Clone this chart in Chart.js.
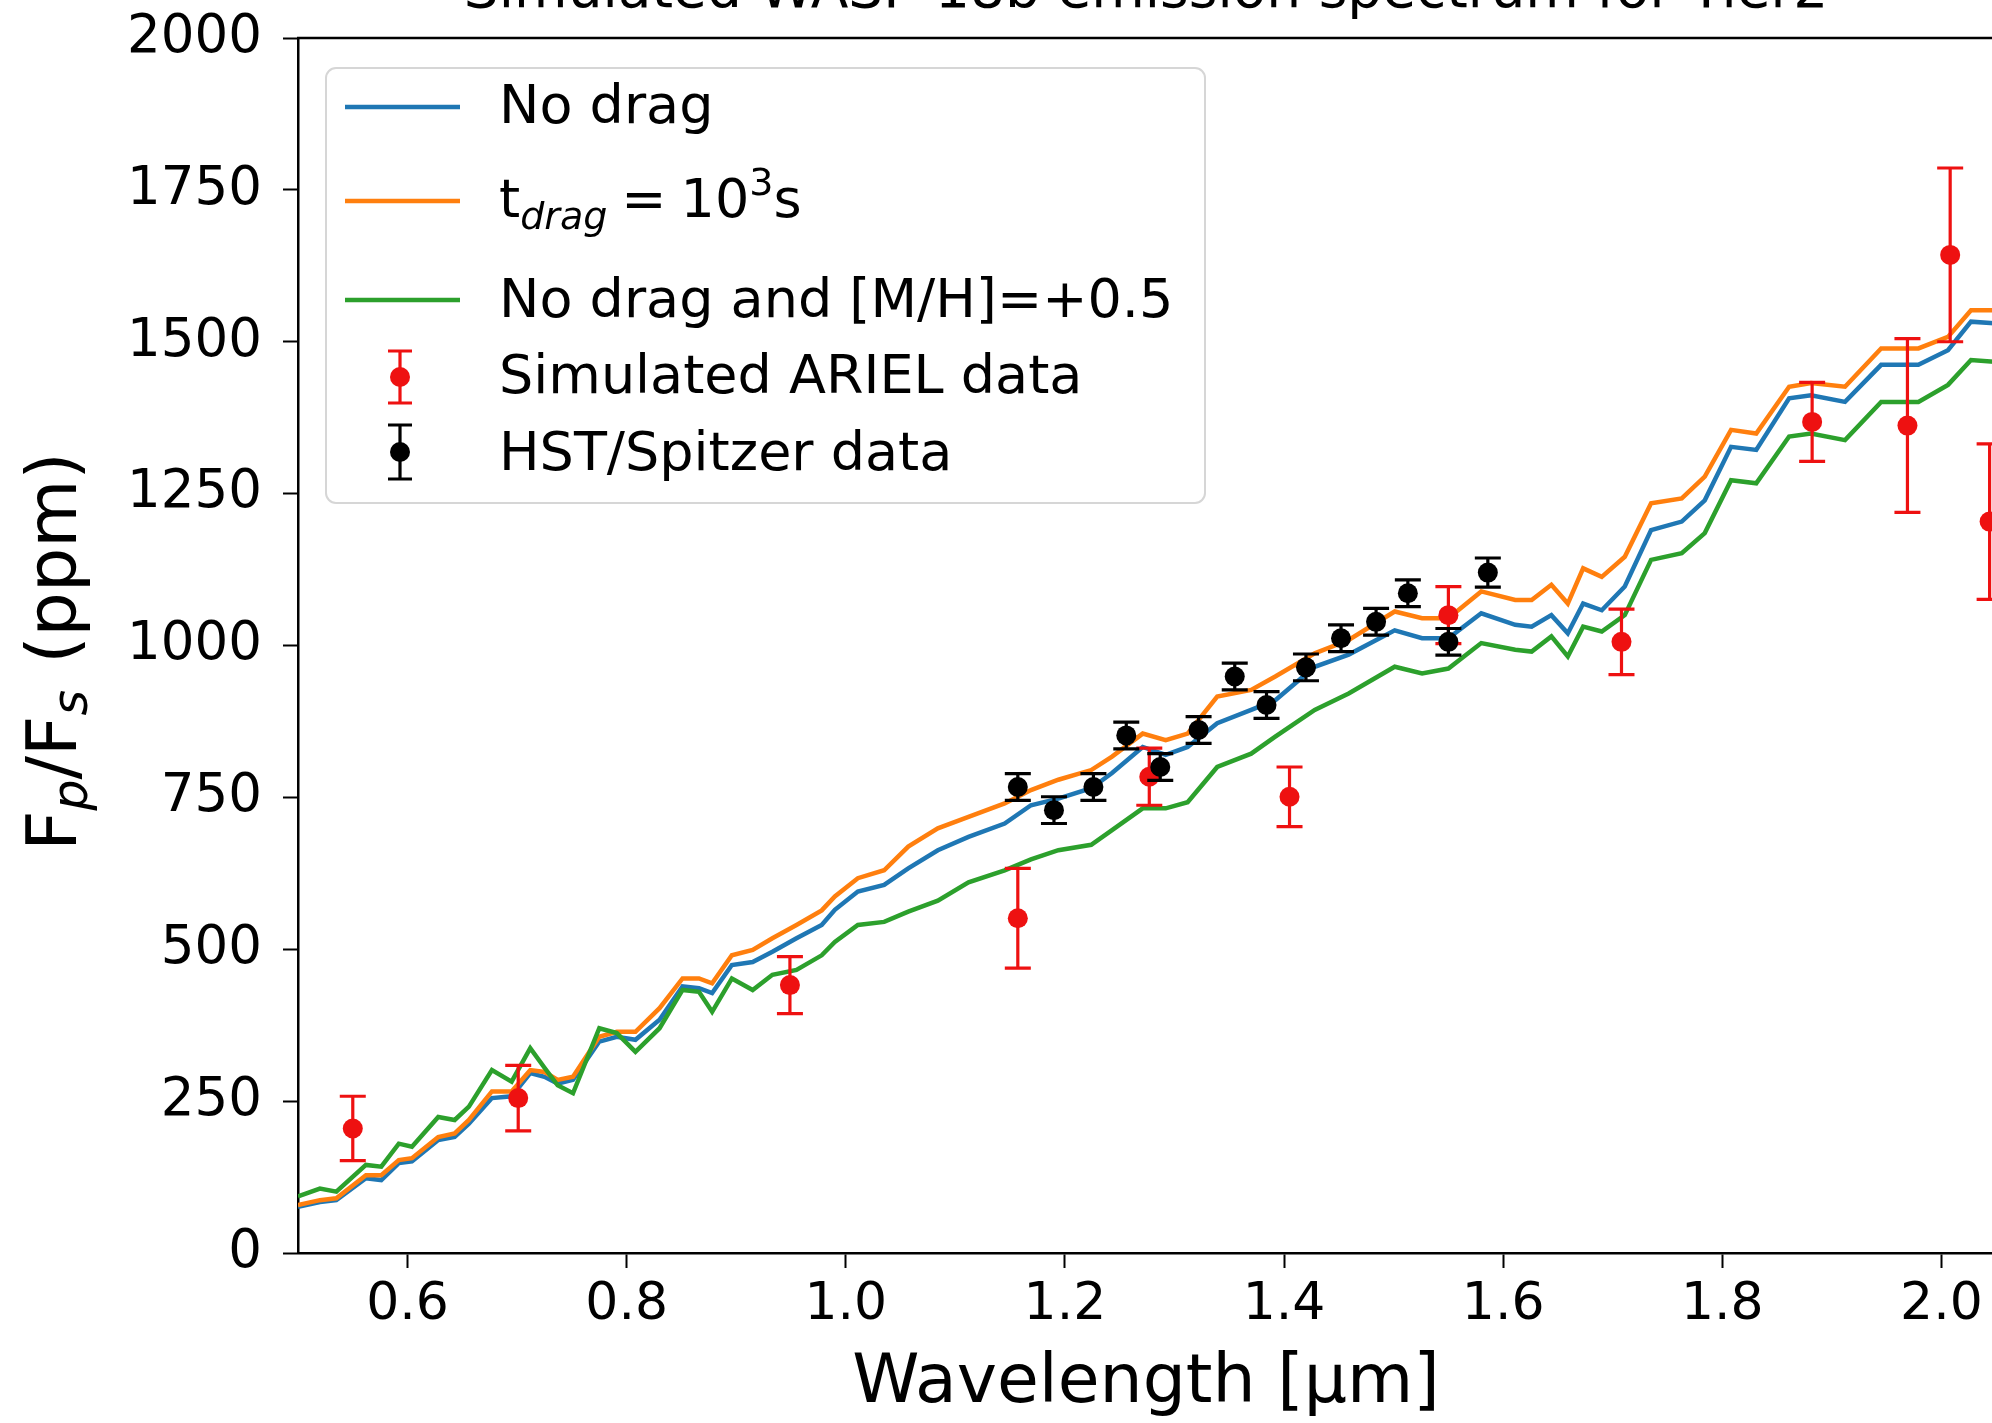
<!DOCTYPE html>
<html>
<head>
<meta charset="utf-8">
<script src="https://cdn.jsdelivr.net/npm/chart.js@4.4.1/dist/chart.umd.min.js"></script>
<style>
html,body{margin:0;padding:0;background:#fff;overflow:hidden;width:1992px;height:1423px;}
#wrap{position:absolute;left:0;top:-50px;}
</style>
</head>
<body>
<div id="wrap"><canvas id="spec" width="2004" height="1480"></canvas></div>
<script>

/* DATA */

const wavelength = [0.50,0.52,0.535,0.562,0.576,0.592,0.604,0.628,0.643,0.656,0.677,0.695,0.712,0.725,0.737,0.751,0.775,0.791,0.808,0.830,0.851,0.866,0.878,0.896,0.915,0.933,0.955,0.978,0.990,1.011,1.035,1.057,1.084,1.112,1.145,1.169,1.194,1.224,1.243,1.271,1.292,1.312,1.339,1.370,1.392,1.428,1.459,1.501,1.526,1.550,1.580,1.611,1.626,1.644,1.659,1.673,1.690,1.711,1.735,1.763,1.784,1.808,1.831,1.861,1.881,1.912,1.945,1.979,2.006,2.027,2.05];

const noDrag = [76,84,87,123,120,148,151,186,191,213,255,258,296,290,279,285,348,356,351,384,439,436,428,474,479,496,518,540,565,595,606,633,663,685,707,737,748,765,790,833,820,833,872,894,910,965,985,1025,1012,1012,1053,1034,1031,1050,1020,1069,1058,1097,1190,1204,1239,1327,1322,1407,1412,1401,1462,1462,1486,1533,1530];

const drag1e3 = [79,87,90,128,128,153,156,191,197,219,266,266,301,298,285,290,356,364,364,403,452,452,444,490,499,518,540,564,587,617,630,669,699,718,740,762,779,795,817,855,844,855,916,927,949,987,1009,1056,1045,1045,1089,1075,1075,1100,1069,1127,1113,1146,1234,1242,1278,1355,1349,1426,1432,1426,1489,1489,1508,1552,1552];

const noDragMetal = [93,106,101,145,142,180,175,224,219,241,301,282,337,305,276,263,370,362,331,370,433,430,397,452,433,458,466,490,512,540,545,562,580,610,630,648,663,672,696,732,732,742,800,822,850,894,921,965,954,962,1004,993,990,1015,982,1031,1023,1050,1141,1152,1185,1272,1267,1344,1349,1338,1401,1401,1429,1470,1467];

const arielWave = [0.550,0.701,0.949,1.157,1.277,1.405,1.550,1.708,1.882,1.969,2.008,2.044];
const arielFlux = [205,255,441,551,784,751,1050,1006,1368,1362,1643,1204];
const arielErr = [53,54,47,82,47,49,47,54,65,143,143,128];

const hstWave = [1.157,1.190,1.226,1.256,1.287,1.322,1.355,1.384,1.420,1.452,1.484,1.513,1.550,1.586];
const hstFlux = [767,729,767,852,800,861,949,902,964,1012,1039,1086,1006,1120];
const hstErr = [22,22,22,22,22,22,22,22,22,22,22,22,22,24];

const xTicks = [0.6,0.8,1.0,1.2,1.4,1.6,1.8,2.0];
const yTicks = [0,250,500,750,1000,1250,1500,1750,2000];

const FONT = "DejaVu Sans";
Chart.defaults.font.family = FONT;
Chart.defaults.color = "#000";

function lineSet(label,values,color,order){
return {
label:label,
data:wavelength.map((x,i)=>({x:x,y:values[i]})),
showLine:true,
borderColor:color,
backgroundColor:color,
borderWidth:4.5,
pointRadius:0,
pointHoverRadius:0,
tension:0,
order:order
};
}

function pointSet(label,xs,ys,errs,color,order){
return {
label:label,
data:xs.map((x,i)=>({x:x,y:ys[i]})),
errors:errs,
showLine:false,
borderColor:color,
backgroundColor:color,
pointRadius:10,
pointHoverRadius:10,
pointBorderWidth:0,
order:order
};
}

/* ERROR BARS */

const errorBars = {
id:'errorBars',
beforeDatasetDraw:function(chart,args){
let ds = chart.data.datasets[args.index];
if(!ds.errors) return;
let ctx = chart.ctx;
let a = chart.chartArea;
let x = chart.scales.x, y = chart.scales.y;
ctx.save();
ctx.beginPath();
ctx.rect(a.left,a.top,a.right-a.left,a.bottom-a.top);
ctx.clip();
ctx.strokeStyle = ds.borderColor;
ctx.lineWidth = 3.2;
ds.data.forEach(function(p,i){
let px = x.getPixelForValue(p.x);
let top = y.getPixelForValue(p.y+ds.errors[i]);
let bot = y.getPixelForValue(p.y-ds.errors[i]);
ctx.beginPath();
ctx.moveTo(px,top); ctx.lineTo(px,bot);
ctx.moveTo(px-13,top); ctx.lineTo(px+13,top);
ctx.moveTo(px-13,bot); ctx.lineTo(px+13,bot);
ctx.stroke();
});
ctx.restore();
}
};

/* FRAME + Y TITLE + LEGEND */

function subText(ctx,parts,x,y){
// parts: [text, size, style, dy, extra gap]
parts.forEach(function(p){
ctx.font = (p[2]||"") + " " + p[1] + "px " + FONT;
ctx.fillText(p[0],x,y+(p[3]||0));
x += ctx.measureText(p[0]).width + (p[4]||0);
});
return x;
}

function partsWidth(ctx,parts){
let w = 0;
parts.forEach(function(p){
ctx.font = (p[2]||"") + " " + p[1] + "px " + FONT;
w += ctx.measureText(p[0]).width + (p[4]||0);
});
return w;
}

const extras = {
id:'extras',
afterDraw:function(chart){
let ctx = chart.ctx;
let a = chart.chartArea;
ctx.save();

// top spine
ctx.strokeStyle = "#000";
ctx.lineWidth = 2.5;
ctx.beginPath();
ctx.moveTo(a.left-1,a.top);
ctx.lineTo(a.right,a.top);
ctx.stroke();

// y axis title with subscripts
ctx.fillStyle = "#000";
ctx.textBaseline = "alphabetic";
let yParts = [["F",70],["p",49,"italic",11],["/F",70],["s",49,"italic",11,4],[" (ppm)",70]];
ctx.save();
ctx.translate(a.left-222,(a.top+a.bottom)/2+6);
ctx.rotate(-Math.PI/2);
subText(ctx,yParts,-partsWidth(ctx,yParts)/2,0);
ctx.restore();

// legend box
let lx = a.left+28, ly = a.top+30;
ctx.beginPath();
ctx.roundRect(lx,ly,879,435,10);
ctx.fillStyle = "rgba(255,255,255,0.8)";
ctx.fill();
ctx.strokeStyle = "#d6d6d6";
ctx.lineWidth = 2;
ctx.stroke();

let hx0 = a.left+47, hx1 = a.left+162, tx = a.left+201;
let lines = [["#1f77b4",69],["#ff7f0e",163],["#2ca02c",262]];
lines.forEach(function(l){
ctx.strokeStyle = l[0];
ctx.lineWidth = 4.5;
ctx.beginPath();
ctx.moveTo(hx0,a.top+l[1]);
ctx.lineTo(hx1,a.top+l[1]);
ctx.stroke();
});

let marks = [["#ee1111",339,26],["#000",414,27]];
marks.forEach(function(m){
let cx = a.left+102, cy = a.top+m[1];
ctx.strokeStyle = m[0];
ctx.fillStyle = m[0];
ctx.lineWidth = 3.2;
ctx.beginPath();
ctx.moveTo(cx,cy-m[2]); ctx.lineTo(cx,cy+m[2]);
ctx.moveTo(cx-12,cy-m[2]); ctx.lineTo(cx+12,cy-m[2]);
ctx.moveTo(cx-12,cy+m[2]); ctx.lineTo(cx+12,cy+m[2]);
ctx.stroke();
ctx.beginPath();
ctx.arc(cx,cy,10,0,Math.PI*2);
ctx.fill();
});

ctx.fillStyle = "#000";
ctx.font = "54px " + FONT;
ctx.fillText("No drag",tx,a.top+85);
subText(ctx,[["t",54],["drag",38,"italic",12,14],["=",54,"",0,14],["10",54],["3",38,"",-22],["s",54]],tx,a.top+179);
ctx.font = "54px " + FONT;
ctx.fillText("No drag and [M/H]=+0.5",tx,a.top+279);
ctx.fillText("Simulated ARIEL data",tx,a.top+355);
ctx.fillText("HST/Spitzer data",tx,a.top+432);

ctx.restore();
}
};

/* CHART */

new Chart(document.getElementById("spec"),{
type:'scatter',
data:{
datasets:[
lineSet("No drag",noDrag,"#1f77b4",5),
lineSet("t_drag = 10^3 s",drag1e3,"#ff7f0e",4),
lineSet("No drag and [M/H]=+0.5",noDragMetal,"#2ca02c",3),
pointSet("Simulated ARIEL data",arielWave,arielFlux,arielErr,"#ee1111",2),
pointSet("HST/Spitzer data",hstWave,hstFlux,hstErr,"#000",1)
]
},
plugins:[errorBars,extras],
options:{
responsive:false,
animation:false,
devicePixelRatio:1,
layout:{padding:{left:0,right:10,top:0,bottom:0}},
plugins:{
legend:{display:false},
tooltip:{enabled:false},
title:{
display:true,
fullSize:false,
text:"Simulated WASP-18b emission spectrum for Tier2",
color:"#000",
font:{family:FONT,size:55,weight:'normal'},
padding:{top:10,bottom:12}
}
},
scales:{
x:{
type:'linear',
min:0.5,
max:2.048,
afterBuildTicks:function(s){ s.ticks = xTicks.map(v=>({value:v})); },
afterFit:function(s){ s.height = 177; },
ticks:{
callback:function(v){ return v.toFixed(1); },
font:{size:52},
color:"#000",
padding:6,
maxRotation:0,
autoSkip:false
},
grid:{display:true,drawOnChartArea:false,drawTicks:true,tickLength:15,tickWidth:2,tickColor:"#000"},
border:{display:true,color:"#000",width:2.5},
title:{display:true,text:"Wavelength [μm]",color:"#000",font:{size:68},padding:{top:0,bottom:5}}
},
y:{
min:0,
max:2000,
afterBuildTicks:function(s){ s.ticks = yTicks.map(v=>({value:v})); },
afterFit:function(s){ s.width = 298; },
ticks:{
callback:function(v){ return String(v); },
font:{size:53},
color:"#000",
padding:21
},
grid:{display:true,drawOnChartArea:false,drawTicks:true,tickLength:15,tickWidth:2,tickColor:"#000"},
border:{display:true,color:"#000",width:2.5}
}
}
}
});

</script>
</body>
</html>
